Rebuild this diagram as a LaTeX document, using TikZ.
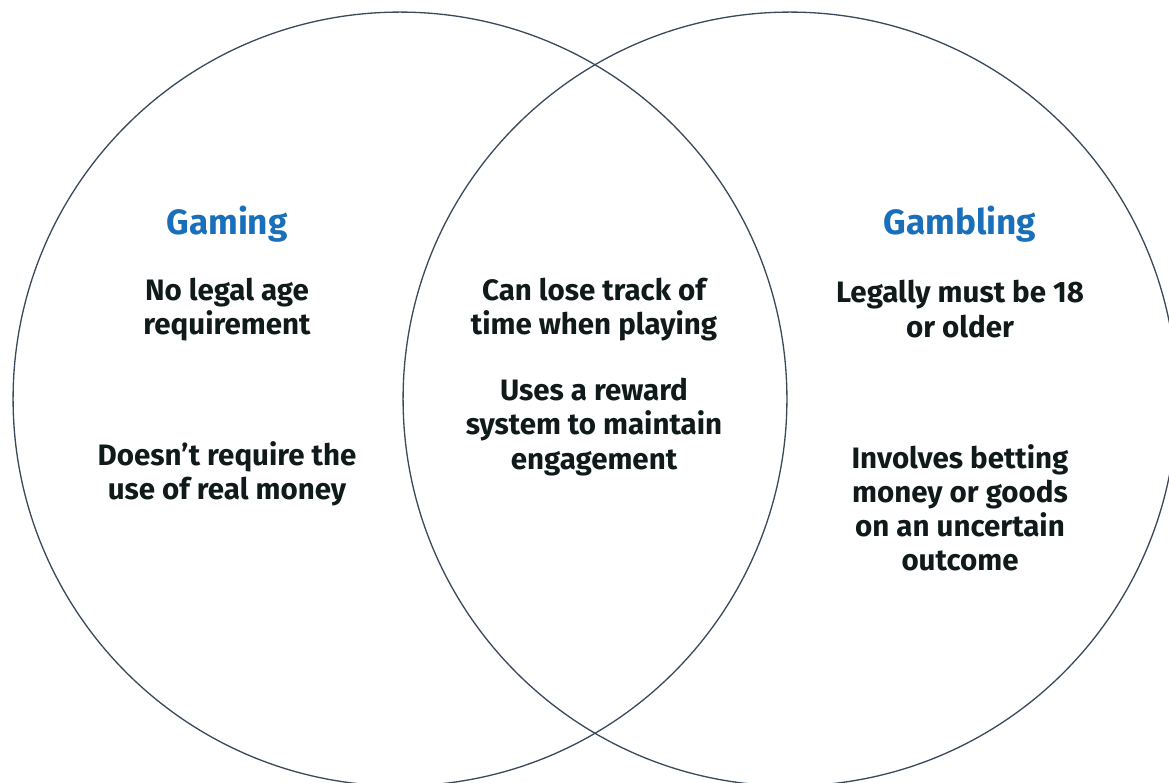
\documentclass[tikz,border=0pt]{standalone}
\usepackage{fontspec}
\setmainfont{Fira Sans}
\usetikzlibrary{positioning}

\definecolor{ringline}{HTML}{3B4A5A}
\definecolor{headblue}{HTML}{1A6FBA}
\definecolor{bodyink}{HTML}{111A1A}

\begin{document}
\begin{tikzpicture}
[x=0.02cm, y=-0.02cm,
% STYLES
% The set style draws the two overlapping circles
set/.style={circle, draw=ringline, line width=0.75pt, minimum size=15.48cm, inner sep=0pt},
% The head style is used for the name of each set
head/.style={inner sep=0pt, text=headblue, font=\bfseries\fontsize{20}{24}\selectfont},
% The item style is used for the facts inside the sets
item/.style={inner sep=0pt, align=center, text=bodyink, font=\bfseries\fontsize{16.8}{19.4}\selectfont}]

\useasboundingbox (0,0) rectangle (1169,782);

% Draw sets
\node [set] (gaming-set) at (400,399) {};
\node [set] (gambling-set) at (790,399) {};

% GAMING
\node [head] (gaming) at (227,224) {Gaming};
\node [item] (gaming-age) at (227,310) {No legal age\\requirement};
\node [item] (gaming-money) at (227,474) {Doesn’t require the\\use of real money};

% BOTH
\node [item] (both-time) at (594,310) {Can lose track of\\time when playing};
\node [item] (both-reward) at (594,427) {Uses a reward\\system to maintain\\engagement};

% GAMBLING
\node [head] (gambling) at (960,224) {Gambling};
\node [item] (gambling-age) at (960,309) {Legally must be 18\\or older};
\node [item] (gambling-bet) at (960,508) {Involves betting\\money or goods\\on an uncertain\\outcome};

\end{tikzpicture}
\end{document}
